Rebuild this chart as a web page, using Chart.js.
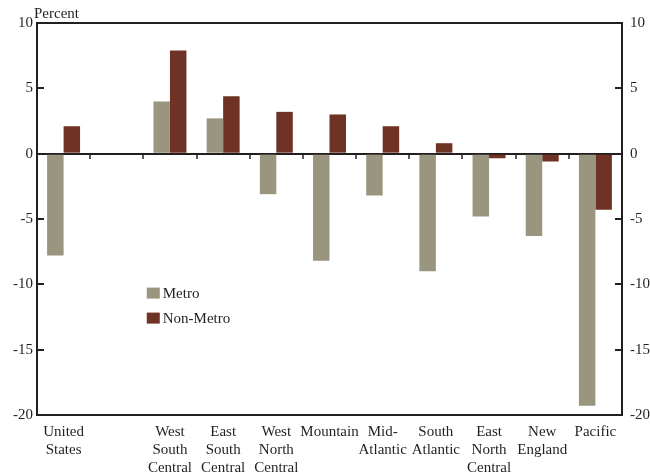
<!DOCTYPE html>
<html><head><meta charset="utf-8">
<script src="https://cdn.jsdelivr.net/npm/chart.js@4"></script>
<style>html,body{margin:0;padding:0;background:#fff}#wrap{width:650px;height:474px;position:relative}</style>
</head><body><div id="wrap"><canvas id="c"></canvas></div>
<script>
const categories = [["United","States"], "", ["West","South","Central"], ["East","South","Central"], ["West","North","Central"], "Mountain", ["Mid-","Atlantic"], ["South","Atlantic"], ["East","North","Central"], ["New","England"], "Pacific"];
const metroValues = [-7.8, null, 4.0, 2.7, -3.1, -8.2, -3.2, -9.0, -4.8, -6.3, -19.3];
const nonMetroValues = [2.1, null, 7.9, 4.4, 3.2, 3.0, 2.1, 0.8, -0.35, -0.6, -4.3];
const seriesNames = ["Metro", "Non-Metro"];
const yTickValues = [10, 5, 0, -5, -10, -15, -20];
const axisTitle = "Percent";

const INK = '#231f20';
const FAMILY = "'Liberation Serif', 'Times New Roman', serif";
const FONT = {family: FAMILY, size: 15, lineHeight: 1.2};
const colors = ['#99957f', '#6e3324'];

const framePlugin = {
  id: 'frame',
  afterDraw(chart) {
    const {ctx, chartArea: a, scales} = chart;
    const y = scales.y, x = scales.x;
    ctx.save();
    ctx.strokeStyle = INK;
    ctx.lineWidth = 2;
    ctx.beginPath(); ctx.moveTo(a.left - 1, a.top); ctx.lineTo(a.right + 1, a.top); ctx.stroke();
    yTickValues.forEach(v => {
      if (v === 10 || v === -20) return;
      const py = Math.round(y.getPixelForValue(v));
      ctx.beginPath(); ctx.moveTo(a.left, py); ctx.lineTo(a.left + 7, py); ctx.stroke();
      ctx.beginPath(); ctx.moveTo(a.right - 7, py); ctx.lineTo(a.right, py); ctx.stroke();
    });
    const z = Math.round(y.getPixelForValue(0));
    ctx.lineWidth = 1.5;
    for (let i = 0; i < categories.length - 1; i++) {
      const px = Math.round((x.getPixelForValue(i) + x.getPixelForValue(i + 1)) / 2);
      ctx.beginPath(); ctx.moveTo(px, z); ctx.lineTo(px, z + 5); ctx.stroke();
    }
    ctx.fillStyle = INK;
    ctx.font = `15px ${FAMILY}`;
    ctx.textAlign = 'left'; ctx.textBaseline = 'alphabetic';
    ctx.fillText(axisTitle, a.left - 3, a.top - 5);
    const lx = x.getPixelForValue(1) + 30, ly0 = y.getPixelForValue(-10.25);
    chart.data.datasets.forEach((ds, i) => {
      const ly = ly0 + i * 25;
      ctx.fillStyle = ds.backgroundColor;
      ctx.fillRect(lx, ly, 13, 11);
      ctx.fillStyle = INK;
      ctx.font = `15px ${FAMILY}`;
      ctx.textBaseline = 'middle';
      ctx.fillText(ds.label, lx + 16, ly + 6);
    });
    ctx.restore();
  }
};

new Chart(document.getElementById('c'), {
  type: 'bar',
  data: {
    labels: categories,
    datasets: [
      {label: seriesNames[0], data: metroValues, backgroundColor: colors[0], barPercentage: 1, categoryPercentage: 0.62, yAxisID: 'y'},
      {label: seriesNames[1], data: nonMetroValues, backgroundColor: colors[1], barPercentage: 1, categoryPercentage: 0.62, yAxisID: 'y'}
    ]
  },
  options: {
    responsive: true,
    maintainAspectRatio: false,
    animation: false,
    layout: {padding: {top: 23, left: 0, right: 0, bottom: 0}},
    plugins: {legend: {display: false}, tooltip: {enabled: false}},
    scales: {
      x: {
        grid: {display: false},
        border: {display: true, color: INK, width: 2},
        ticks: {font: FONT, color: INK, maxRotation: 0, autoSkip: false, padding: 0},
        afterFit: s => { s.height = 59; }
      },
      y: {
        position: 'left', min: -20, max: 10,
        afterBuildTicks: s => { s.ticks = yTickValues.map(v => ({value: v})); },
        ticks: {font: {family: FAMILY, size: 15}, color: INK, padding: 4},
        grid: {drawTicks: false, color: c => c.tick && c.tick.value === 0 ? INK : 'rgba(0,0,0,0)', lineWidth: 2},
        border: {display: true, color: INK, width: 2},
        afterFit: s => { s.width = 37; }
      },
      y2: {
        position: 'right', min: -20, max: 10,
        afterBuildTicks: s => { s.ticks = yTickValues.map(v => ({value: v})); },
        ticks: {font: {family: FAMILY, size: 15}, color: INK, padding: 8},
        grid: {display: false, drawTicks: false},
        border: {display: true, color: INK, width: 2},
        afterFit: s => { s.width = 28; }
      }
    }
  },
  plugins: [framePlugin]
});
</script>
</body></html>
